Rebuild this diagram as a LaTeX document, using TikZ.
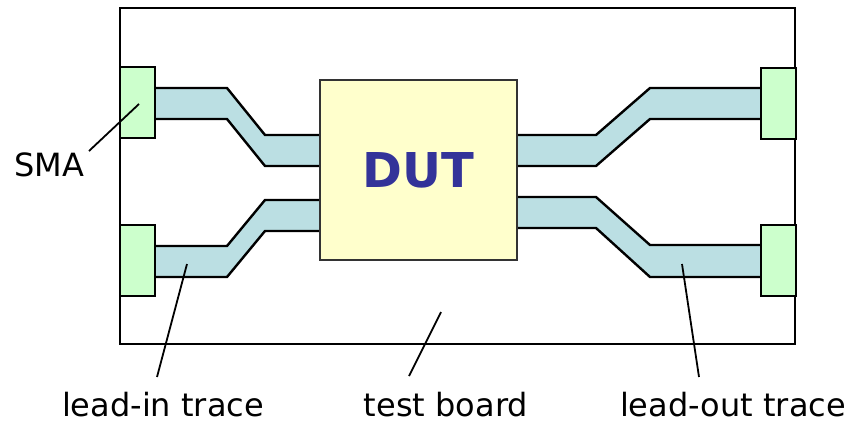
\documentclass[tikz,border=0pt]{standalone}
\usepackage{fontspec}
\setmainfont{DejaVu Sans}
\definecolor{smafill}{HTML}{CCFFCC}
\definecolor{dutfill}{HTML}{FFFFCC}
\definecolor{tracefill}{HTML}{BBDFE3}
\definecolor{dutblue}{HTML}{333399}
\begin{document}
\begin{tikzpicture}[x=1pt,y=-1pt,
  boardbox/.style={draw=black,line width=2.4pt,inner sep=0pt,minimum width=675pt,minimum height=336pt},
  smabox/.style={draw=black,fill=smafill,line width=2pt,inner sep=0pt,minimum width=35pt,minimum height=71pt},
  dutbox/.style={draw=black!80,fill=dutfill,line width=2pt,inner sep=0pt,minimum width=197pt,minimum height=180pt,
     font=\fontsize{48}{50}\selectfont\bfseries,text=dutblue},
  tracefillst/.style={fill=tracefill,draw=none},
  traceedge/.style={draw=black,line width=2.4pt,line join=miter},
  lbl/.style={font=\fontsize{32}{34}\selectfont,inner sep=0pt},
  leader/.style={draw=black,line width=1.8pt}
]
\useasboundingbox (0,0) rectangle (848,423);
\node[boardbox] (board) at (457.5,176) {};
% traces fill
\path[tracefillst] (150,88) -- (227,88) -- (265,135) -- (325,135) -- (325,166) -- (265,166) -- (227,119) -- (150,119) -- cycle;
\path[tracefillst] (150,246) -- (227,246) -- (265,200) -- (325,200) -- (325,231) -- (265,231) -- (227,277) -- (150,277) -- cycle;
\path[tracefillst] (512,135) -- (596,135) -- (650,88) -- (766,88) -- (766,119) -- (650,119) -- (596,166) -- (512,166) -- cycle;
\path[tracefillst] (512,197) -- (596,197) -- (650,245) -- (766,245) -- (766,277) -- (650,277) -- (596,228) -- (512,228) -- cycle;
% trace edges
\draw[traceedge] (155,88) -- (227,88) -- (265,135) -- (320,135);
\draw[traceedge] (155,119) -- (227,119) -- (265,166) -- (320,166);
\draw[traceedge] (155,246) -- (227,246) -- (265,200) -- (320,200);
\draw[traceedge] (155,277) -- (227,277) -- (265,231) -- (320,231);
\draw[traceedge] (517,135) -- (596,135) -- (650,88) -- (761,88);
\draw[traceedge] (517,166) -- (596,166) -- (650,119) -- (761,119);
\draw[traceedge] (517,197) -- (596,197) -- (650,245) -- (761,245);
\draw[traceedge] (517,228) -- (596,228) -- (650,277) -- (761,277);
% connectors
\node[smabox] (smaLT) at (137.5,102.5) {};
\node[smabox] (smaLB) at (137.5,260.5) {};
\node[smabox] (smaRT) at (778,103.5) {};
\node[smabox] (smaRB) at (778,260) {};
% DUT
\node[dutbox] (dut) at (418.5,170) {DUT};
% labels
\node[lbl] (smalbl) at (49,165) {SMA};
\node[lbl,anchor=base] (leadin) at (163,416) {lead-in trace};
\node[lbl,anchor=base] (testboard) at (446,416) {test board};
\node[lbl,anchor=base] (leadout) at (733,416) {lead-out trace};
% leader lines
\coordinate (smatip) at (139,104);
\coordinate (smafoot) at (89,151);
\coordinate (intip) at (187,264);
\coordinate (infoot) at (157,377);
\coordinate (tbtip) at (441,312);
\coordinate (tbfoot) at (409,376);
\coordinate (outtip) at (682,264);
\coordinate (outfoot) at (699,377);
\draw[leader] (smafoot) -- (smatip);
\draw[leader] (infoot) -- (intip);
\draw[leader] (tbfoot) -- (tbtip);
\draw[leader] (outfoot) -- (outtip);
\end{tikzpicture}
\end{document}
